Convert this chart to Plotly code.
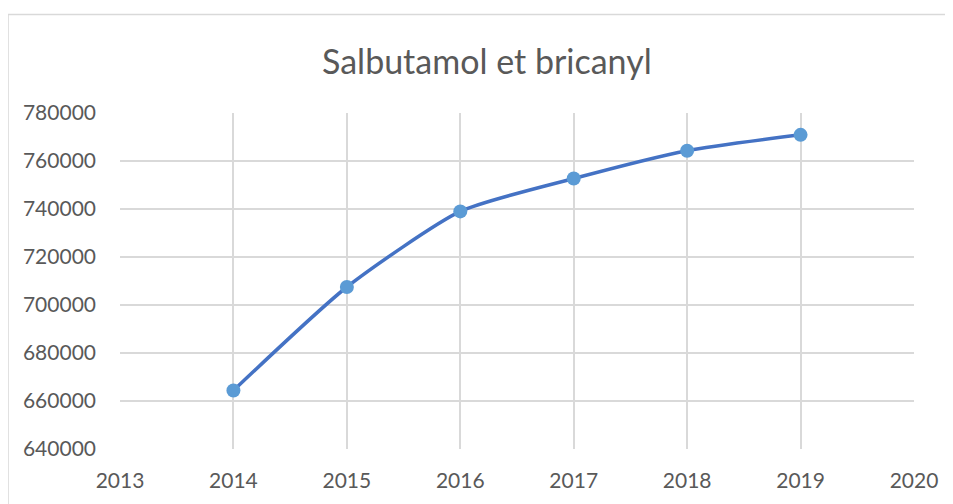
import plotly.graph_objects as go

YEARS = [2014, 2015, 2016, 2017, 2018, 2019]
VALUES = [664400, 707500, 739000, 752700, 764300, 770900]
TITLE = "Salbutamol et bricanyl"

FONT = "Lato, 'Open Sans', sans-serif"
GRID = "#D9D9D9"
TXT = "#595959"

fig = go.Figure()
fig.add_trace(go.Scatter(
    x=YEARS, y=VALUES, mode="lines+markers",
    line=dict(color="#4472C4", width=3.5, shape="spline", smoothing=0.6),
    marker=dict(color="#5B9BD5", size=14),
    showlegend=False))

# outer chart border (Excel style): only top and left edges are inside the view
fig.add_shape(type="line", xref="paper", yref="paper", x0=-0.141, x1=1.3, y0=1.293, y1=1.293,
              line=dict(color=GRID, width=1.5), layer="below")
fig.add_shape(type="line", xref="paper", yref="paper", x0=-0.141, x1=-0.141, y0=-0.5, y1=1.293,
              line=dict(color=GRID, width=1.5), layer="below")

fig.add_annotation(text=TITLE, xref="paper", yref="paper", x=0.462, y=1.157,
                   xanchor="center", yanchor="middle",
                   showarrow=False, font=dict(family=FONT, size=34, color=TXT))

fig.update_xaxes(range=[2013, 2020], tick0=2013, dtick=1, showgrid=True, gridcolor=GRID,
                 gridwidth=1.5, zeroline=False, showline=False, ticks="",
                 ticklabelstandoff=17, tickfont=dict(family=FONT, size=21, color=TXT))
fig.update_yaxes(range=[640000, 780000], dtick=20000, showgrid=True, gridcolor=GRID,
                 gridwidth=1.5, zeroline=False, showline=False, ticks="",
                 ticklabelstandoff=23, tickformat="d",
                 tickfont=dict(family=FONT, size=21, color=TXT))
# page body has an 8px margin, so the figure is shrunk by that offset
fig.update_layout(width=945, height=496, paper_bgcolor="white", plot_bgcolor="white",
                  margin=dict(l=112, r=39, t=105, b=52))
fig.write_html("out.html")
